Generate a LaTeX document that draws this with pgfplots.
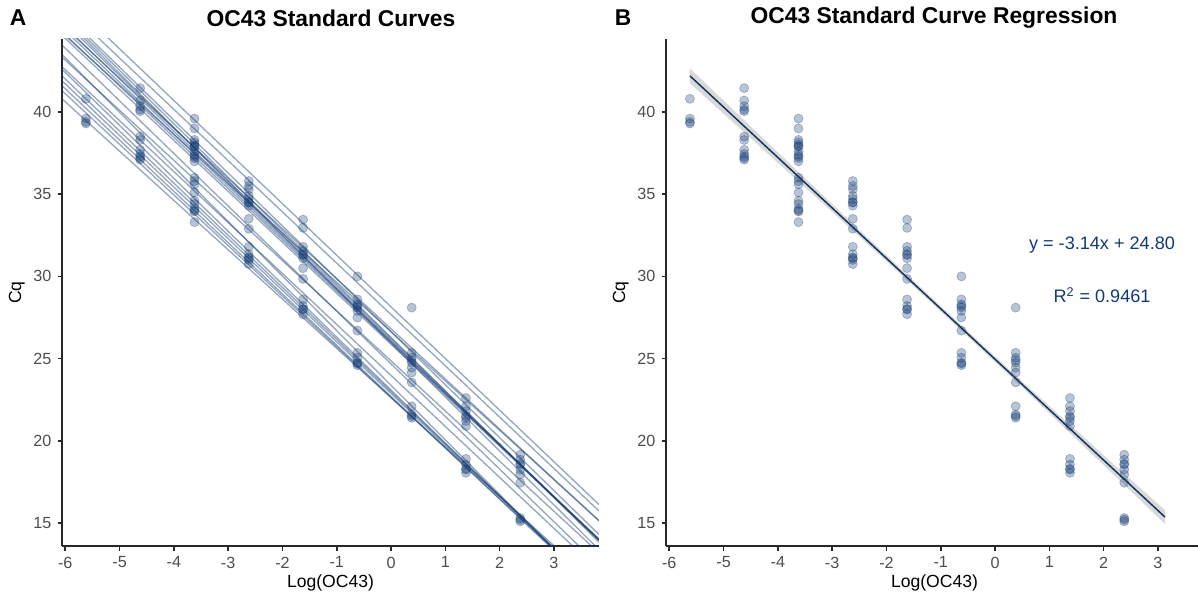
\documentclass[border=0pt]{standalone}
\usepackage{pgfplots}
\usepackage{pgfplotstable}
\pgfplotsset{compat=1.18}
\usepackage{fontspec}
\setmainfont{Liberation Sans}
\definecolor{navy}{RGB}{18,58,115}
\definecolor{regl}{RGB}{22,52,98}
\definecolor{tickgray}{RGB}{77,77,77}
\definecolor{axgray}{RGB}{40,40,40}

\pgfplotstableread{
x y
-5.62 40.8
-5.62 39.6
-5.62 39.4
-5.62 39.3
-4.62 41.45
-4.62 40.7
-4.62 40.35
-4.62 40.15
-4.62 40.05
-4.62 38.5
-4.62 38.3
-4.62 37.7
-4.62 37.45
-4.62 37.3
-4.62 37.2
-4.62 37.1
-3.62 39.6
-3.62 39.0
-3.62 38.3
-3.62 38.15
-3.62 38.0
-3.62 37.9
-3.62 37.9
-3.62 37.6
-3.62 37.4
-3.62 37.3
-3.62 37.2
-3.62 37.0
-3.62 36.0
-3.62 35.8
-3.62 35.6
-3.62 35.1
-3.62 34.6
-3.62 34.4
-3.62 34.1
-3.62 34.0
-3.62 33.95
-3.62 33.3
-2.62 35.8
-2.62 35.5
-2.62 35.3
-2.62 34.9
-2.62 34.7
-2.62 34.5
-2.62 34.5
-2.62 34.3
-2.62 33.5
-2.62 32.9
-2.62 31.8
-2.62 31.35
-2.62 31.15
-2.62 31.1
-2.62 31.0
-2.62 30.75
-1.62 33.45
-1.62 32.95
-1.62 31.8
-1.62 31.55
-1.62 31.35
-1.62 31.3
-1.62 31.1
-1.62 30.5
-1.62 29.85
-1.62 28.6
-1.62 28.2
-1.62 28.0
-1.62 28.0
-1.62 27.7
-0.62 30.0
-0.62 28.6
-0.62 28.3
-0.62 28.2
-0.62 28.1
-0.62 27.9
-0.62 27.5
-0.62 26.7
-0.62 25.35
-0.62 25.05
-0.62 24.75
-0.62 24.7
-0.62 24.6
0.38 28.1
0.38 25.35
0.38 25.05
0.38 24.9
0.38 24.75
0.38 24.45
0.38 24.15
0.38 23.55
0.38 22.1
0.38 21.6
0.38 21.5
0.38 21.4
1.38 22.6
1.38 22.1
1.38 21.8
1.38 21.5
1.38 21.4
1.38 21.2
1.38 20.9
1.38 18.9
1.38 18.55
1.38 18.3
1.38 18.25
1.38 18.05
2.38 19.15
2.38 18.85
2.38 18.6
2.38 18.55
2.38 18.25
2.38 17.95
2.38 17.45
2.38 15.3
2.38 15.2
2.38 15.1
}\cqdata

\pgfplotsset{
  panel/.style={
    scale only axis, width=10.74cm, height=10.14cm,
    xmin=-6.06, xmax=3.83, ymin=13.6, ymax=44.44,
    axis lines=left, axis line style={-, line width=0.9pt, color=axgray},
    xtick={-6,-5,...,3}, ytick={15,20,...,40},
    tick align=outside, major tick length=0.09cm,
    tick style={line width=0.9pt, color=axgray},
    ticklabel style={font=\fontsize{9.2}{10}\selectfont, color=tickgray},
    /pgf/number format/assume math mode=true,
    xlabel={Log(OC43)}, ylabel={Cq},
    label style={font=\fontsize{11.5}{13}\selectfont},
    every axis x label/.style={at={(axis description cs:0.5,-0.072)}, anchor=center},
    every axis y label/.style={at={(axis description cs:-0.084,0.5)}, anchor=center, rotate=90},
  },
  pts/.style={only marks, mark=*, mark size=2.6pt, navy, opacity=0.3, mark options={draw=navy, fill=navy}},
  fit/.style={navy, opacity=0.45, line width=0.75pt},
}

\begin{document}
\begin{tikzpicture}
\useasboundingbox (0,0) rectangle (23.96,12);
\node[font=\bfseries\fontsize{13}{15}\selectfont] at (0.36,11.64) {A};
\node[font=\bfseries\fontsize{13}{15}\selectfont] at (12.46,11.64) {B};
\node[font=\bfseries\fontsize{13}{15}\selectfont] at (6.62,11.64) {OC43 Standard Curves};
\node[font=\bfseries\fontsize{13}{15}\selectfont] at (18.68,11.64) {OC43 Standard Curve Regression};

\begin{axis}[panel, at={(1.24cm,1.08cm)}, anchor=south west]
\addplot[pts] table[x=x,y=y]{\cqdata};
\addplot[fit] coordinates {(-6.06,47.17) (3.83,16.12)};
\addplot[fit] coordinates {(-6.06,46.59) (3.83,15.73)};
\addplot[fit] coordinates {(-6.06,46.14) (3.83,14.30)};
\addplot[fit] coordinates {(-6.06,45.98) (3.83,13.84)};
\addplot[fit] coordinates {(-6.06,45.61) (3.83,13.96)};
\addplot[fit] coordinates {(-6.06,45.38) (3.83,13.93)};
\addplot[fit] coordinates {(-6.06,45.14) (3.83,13.98)};
\addplot[fit] coordinates {(-6.06,44.89) (3.83,14.03)};
\addplot[fit] coordinates {(-6.06,44.66) (3.83,14.00)};
\addplot[fit] coordinates {(-6.06,45.29) (3.83,15.13)};
\addplot[fit] coordinates {(-6.06,44.82) (3.83,15.15)};
\addplot[fit] coordinates {(-6.06,45.82) (3.83,13.38)};
\addplot[fit] coordinates {(-6.06,43.34) (3.83,13.18)};
\addplot[fit] coordinates {(-6.06,42.76) (3.83,12.10)};
\addplot[fit] coordinates {(-6.06,44.07) (3.83,12.42)};
\addplot[fit] coordinates {(-6.06,43.50) (3.83,10.66)};
\addplot[fit] coordinates {(-6.06,42.60) (3.83,10.75)};
\addplot[fit] coordinates {(-6.06,42.20) (3.83,10.85)};
\addplot[fit] coordinates {(-6.06,41.90) (3.83,10.85)};
\addplot[fit] coordinates {(-6.06,41.60) (3.83,10.74)};
\addplot[fit] coordinates {(-6.06,41.30) (3.83,10.84)};
\addplot[fit] coordinates {(-6.06,40.80) (3.83,11.13)};
\end{axis}

\begin{axis}[panel, at={(13.32cm,1.08cm)}, anchor=south west]
\addplot[pts] table[x=x,y=y]{\cqdata};
\addplot[fill=gray!50, draw=none, fill opacity=0.6] coordinates {
(-5.62,42.65) (-4,37.55) (-2.5,32.83) (-1,28.18) (0.5,23.61) (2,19.12) (3.13,15.78)
(3.13,14.94) (2,18.52) (0.5,23.25) (-1,27.88) (-2.5,32.43) (-4,36.91) (-5.62,41.75)} -- cycle;
\addplot[regl, line width=0.85pt] coordinates {(-5.62,42.20) (3.13,15.36)};
\node[text=navy, font=\fontsize{10.3}{12}\selectfont] at (axis cs:1.97,31.9) {y = -3.14x + 24.80};
\node[text=navy, font=\fontsize{10.3}{12}\selectfont] at (axis cs:1.97,28.87) {R\textsuperscript{2} = 0.9461};
\end{axis}
\end{tikzpicture}
\end{document}
